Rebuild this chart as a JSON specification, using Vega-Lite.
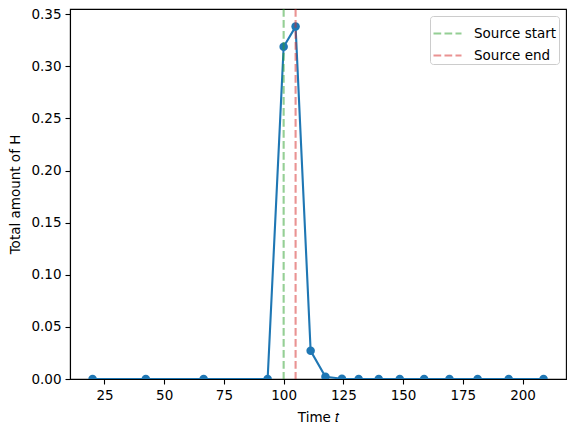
{
  "$schema": "https://vega.github.io/schema/vega-lite/v6.json",
  "width": 496,
  "height": 370,
  "autosize": {"type": "none"},
  "padding": {"left": 70, "top": 9, "right": 10, "bottom": 54},
  "background": "white",
  "config": {
    "font": "DejaVu Sans",
    "view": {"stroke": "black", "strokeWidth": 1.1},
    "axis": {
      "grid": false,
      "domainColor": "black",
      "domainWidth": 1.1,
      "tickColor": "black",
      "tickSize": 5,
      "tickWidth": 1.1,
      "labelFont": "DejaVu Sans",
      "labelFontSize": 13.5,
      "labelColor": "black",
      "labelPadding": 4,
      "titleFont": "DejaVu Sans",
      "titleFontSize": 13.5,
      "titleFontWeight": "normal",
      "titleColor": "black"
    },
    "legend": {
      "labelFont": "DejaVu Sans",
      "labelFontSize": 13.5,
      "labelColor": "black"
    }
  },
  "datasets": {
    "main": [
      {"t": 20.0, "h": 0.0},
      {"t": 42.3, "h": 0.0},
      {"t": 66.5, "h": 0.0},
      {"t": 93.3, "h": 0.0},
      {"t": 100.0, "h": 0.3188},
      {"t": 105.0, "h": 0.3381},
      {"t": 111.3, "h": 0.027},
      {"t": 117.5, "h": 0.0022},
      {"t": 124.4, "h": 0.0003},
      {"t": 131.4, "h": 0.0},
      {"t": 139.8, "h": 0.0},
      {"t": 148.6, "h": 0.0},
      {"t": 158.8, "h": 0.0},
      {"t": 169.4, "h": 0.0},
      {"t": 181.2, "h": 0.0},
      {"t": 194.2, "h": 0.0},
      {"t": 208.8, "h": 0.0}
    ],
    "src": [
      {"t": 100, "label": "Source start"},
      {"t": 105, "label": "Source end"}
    ]
  },
  "layer": [
    {
      "data": {"name": "main"},
      "mark": {"type": "line", "color": "#1f77b4", "strokeWidth": 2.1, "clip": true},
      "encoding": {
        "x": {
          "field": "t", "type": "quantitative",
          "scale": {"domain": [10.56, 218.2], "nice": false, "zero": false},
          "axis": {"title": "Time 𝑡", "values": [25, 50, 75, 100, 125, 150, 175, 200], "titlePadding": 9}
        },
        "y": {
          "field": "h", "type": "quantitative",
          "scale": {"domain": [0, 0.355], "nice": false},
          "axis": {"title": "Total amount of H", "values": [0, 0.05, 0.1, 0.15, 0.2, 0.25, 0.3, 0.35], "format": ".2f", "titlePadding": 8}
        }
      }
    },
    {
      "data": {"name": "main"},
      "mark": {"type": "point", "filled": true, "color": "#1f77b4", "opacity": 1, "size": 72, "clip": true},
      "encoding": {
        "x": {"field": "t", "type": "quantitative"},
        "y": {"field": "h", "type": "quantitative"}
      }
    },
    {
      "data": {"name": "src"},
      "mark": {"type": "rule", "strokeWidth": 2.1, "opacity": 0.5, "strokeDash": [7.7, 3.3]},
      "encoding": {
        "x": {"field": "t", "type": "quantitative"},
        "color": {
          "field": "label", "type": "nominal",
          "scale": {"domain": ["Source start", "Source end"], "range": ["#2ca02c", "#d62728"]},
          "legend": {
            "title": null,
            "orient": "top-right",
            "offset": 7,
            "fillColor": "white",
            "strokeColor": "#cccccc",
            "cornerRadius": 3,
            "padding": 2,
            "symbolType": "stroke",
            "symbolSize": 784,
            "symbolStrokeWidth": 2.1,
            "symbolDash": [7.7, 3.3],
            "symbolOpacity": 0.5,
            "labelOffset": 11,
            "rowPadding": -9
          }
        }
      }
    }
  ]
}
